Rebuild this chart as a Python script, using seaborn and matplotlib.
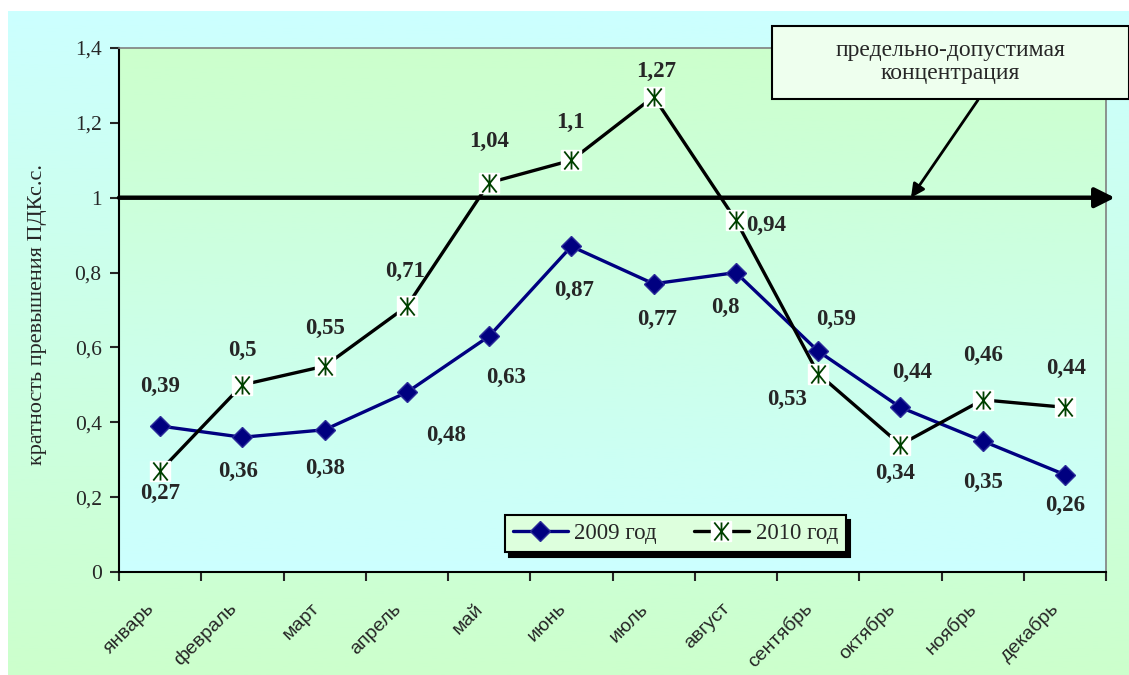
import numpy as np
import pandas as pd
import seaborn as sns
import matplotlib.pyplot as plt
from matplotlib.path import Path
from matplotlib.lines import Line2D
from matplotlib.patches import Rectangle
from matplotlib.legend_handler import HandlerTuple
from matplotlib.colors import LinearSegmentedColormap
from matplotlib.transforms import ScaledTranslation

# data
months = ['январь', 'февраль', 'март', 'апрель', 'май', 'июнь',
          'июль', 'август', 'сентябрь', 'октябрь', 'ноябрь', 'декабрь']
vals_2009 = [0.39, 0.36, 0.38, 0.48, 0.63, 0.87, 0.77, 0.80, 0.59, 0.44, 0.35, 0.26]
vals_2010 = [0.27, 0.50, 0.55, 0.71, 1.04, 1.10, 1.27, 0.94, 0.53, 0.34, 0.46, 0.44]
years = ['2009 год', '2010 год']
limit = 1.0
limit_label = 'предельно-допустимая\nконцентрация'
ylabel = 'кратность превышения ПДКс.с.'
yticks = [0, 0.2, 0.4, 0.6, 0.8, 1.0, 1.2, 1.4]

# label offsets in pixels (dx, dy up)
off_2009 = [(0, 40), (-4, -34), (0, -39), (39, -43), (17, -41), (3, -44),
            (3, -36), (-11, -35), (18, 32), (12, 35), (0, -41), (0, -31)]
off_2010 = [(0, -23), (0, 34), (0, 38), (-2, 35), (0, 41), (-1, 38),
            (3, 25), (30, -5), (-31, -26), (-5, -29), (0, 44), (1, 39)]


def fmt(v):
    return f'{v:g}'.replace('.', ',')


sns.set_style('ticks')
plt.rcParams['font.family'] = ['Liberation Serif', 'DejaVu Serif']

x = np.arange(len(months))
df = pd.DataFrame({
    'x': np.concatenate([x, x]),
    'value': vals_2009 + vals_2010,
    'year': [years[0]] * len(months) + [years[1]] * len(months),
})

W, H = 1129, 675
fig = plt.figure(figsize=(W / 100, H / 100), dpi=100)
fig.patch.set_facecolor('white')

grad = np.linspace(0, 1, 256).reshape(-1, 1)
bg = fig.add_axes([8 / W, 0, 1 - 8 / W, 1 - 11 / H], zorder=-10)
bg.imshow(grad, aspect='auto', extent=[0, 1, 0, 1],
          cmap=LinearSegmentedColormap.from_list('bg', ['#CCFFFF', '#CCFFCC']))
bg.axis('off')

rect = [119 / W, 1 - 572 / H, (1106 - 119) / W, (572 - 48) / H]
pbg = fig.add_axes(rect, zorder=-5)
pbg.imshow(grad, aspect='auto', extent=[0, 1, 0, 1],
           cmap=LinearSegmentedColormap.from_list('pa', ['#CCFFCC', '#CCFFFF']))
pbg.axis('off')

ax = fig.add_axes(rect)
ax.set_facecolor('none')

sns.lineplot(data=df, x='x', y='value', hue='year', palette=['#000080', 'black'],
             linewidth=2.4, legend=False, sort=False, ax=ax, zorder=3)

star = Path([(-0.8, -1), (0.8, 1), (-0.8, 1), (0.8, -1), (0, -1), (0, 1)],
            [Path.MOVETO, Path.LINETO, Path.MOVETO, Path.LINETO, Path.MOVETO, Path.LINETO])

ax.plot(x, vals_2009, ls='none', marker='D', ms=10, mfc='#000080', mec='#2B2B99', mew=1, zorder=4)
ax.plot(x, vals_2010, ls='none', marker='s', ms=14, mfc='white', mec='white', zorder=4)
ax.plot(x, vals_2010, ls='none', marker=star, ms=13, mfc='none', mec='#004000', mew=1.3, zorder=5)

for i, v in enumerate(vals_2009):
    ax.annotate(fmt(v), (x[i], v), xytext=off_2009[i], textcoords='offset pixels',
                ha='center', va='center', fontsize=16.5, fontweight='bold', zorder=6)
for i, v in enumerate(vals_2010):
    ax.annotate(fmt(v), (x[i], v), xytext=off_2010[i], textcoords='offset pixels',
                ha='center', va='center', fontsize=16.5, fontweight='bold', zorder=6)

# limit line with arrow
ax.annotate('', xy=(1.009, limit), xytext=(0, limit), xycoords=('axes fraction', 'data'),
            arrowprops=dict(arrowstyle='-|>', lw=3.2, color='black', mutation_scale=30,
                            shrinkA=0, shrinkB=0),
            annotation_clip=False, zorder=3)

# callout box
fig.add_artist(Rectangle((772 / W, 1 - 99 / H), (W - 772) / W, 73 / H, transform=fig.transFigure,
                         facecolor='#EEFFEE', edgecolor='black', lw=1.5, zorder=10))
fig.text(950 / W, 1 - 62 / H, limit_label, ha='center', va='center', fontsize=17,
         linespacing=1.15, zorder=11)
ax.annotate('', xy=(0.8024, limit), xycoords=('axes fraction', 'data'),
            xytext=(978 / W, 1 - 100 / H), textcoords='figure fraction',
            arrowprops=dict(arrowstyle='-|>', color='black', lw=2, mutation_scale=20,
                            shrinkA=0, shrinkB=0),
            annotation_clip=False, zorder=6)

ax.set_xlim(-0.5, len(months) - 0.5)
ax.set_ylim(0, 1.4)
ax.set_xticks(x, months, rotation=45, ha='right', va='baseline', rotation_mode='anchor',
              fontfamily='Liberation Sans', fontsize=14)
ax.set_xticks(np.arange(-0.5, len(months), 1), minor=True)
ax.tick_params(axis='x', which='major', length=0, pad=27)
ax.tick_params(axis='x', which='minor', length=6.5, width=1.5, direction='out')
for lab in ax.get_xticklabels():
    lab.set_transform(lab.get_transform() + ScaledTranslation(-0.05, 0, fig.dpi_scale_trans))
ax.set_yticks(yticks, [fmt(t) for t in yticks], fontsize=15.5)
ax.tick_params(axis='y', length=6.5, width=1.5, direction='out', pad=6)
ax.set_xlabel('')
ax.set_ylabel(ylabel, fontsize=16)
ax.yaxis.set_label_coords(-0.073, 0.492)

for s in ['left', 'bottom']:
    ax.spines[s].set_color('black')
    ax.spines[s].set_linewidth(1.5)
for s in ['top', 'right']:
    ax.spines[s].set_visible(True)
    ax.spines[s].set_color('#808080')
    ax.spines[s].set_linewidth(1.2)

h1 = Line2D([], [], color='#000080', lw=2.4, marker='D', ms=10, mfc='#000080', mec='#2B2B99')
h2a = Line2D([], [], color='black', lw=2.4, marker='s', ms=14, mfc='white', mec='white')
h2b = Line2D([], [], ls='none', marker=star, ms=13, mfc='none', mec='#004000', mew=1.3)
leg = ax.legend([h1, (h2a, h2b)], years, handler_map={tuple: HandlerTuple(ndivide=1, pad=0)},
                ncol=2, loc='upper left', bbox_to_anchor=(0.379, 0.130), fontsize=16.5,
                frameon=True, fancybox=False, framealpha=1, handlelength=2.4,
                handletextpad=0.3, columnspacing=1.6, borderpad=0.35,
                shadow={'color': 'black', 'alpha': 1, 'ox': 3, 'oy': -3})
leg.get_frame().set_facecolor('#DDFFDD')
leg.get_frame().set_edgecolor('black')
leg.get_frame().set_linewidth(1.5)

fig.savefig('out.png', dpi=100)
